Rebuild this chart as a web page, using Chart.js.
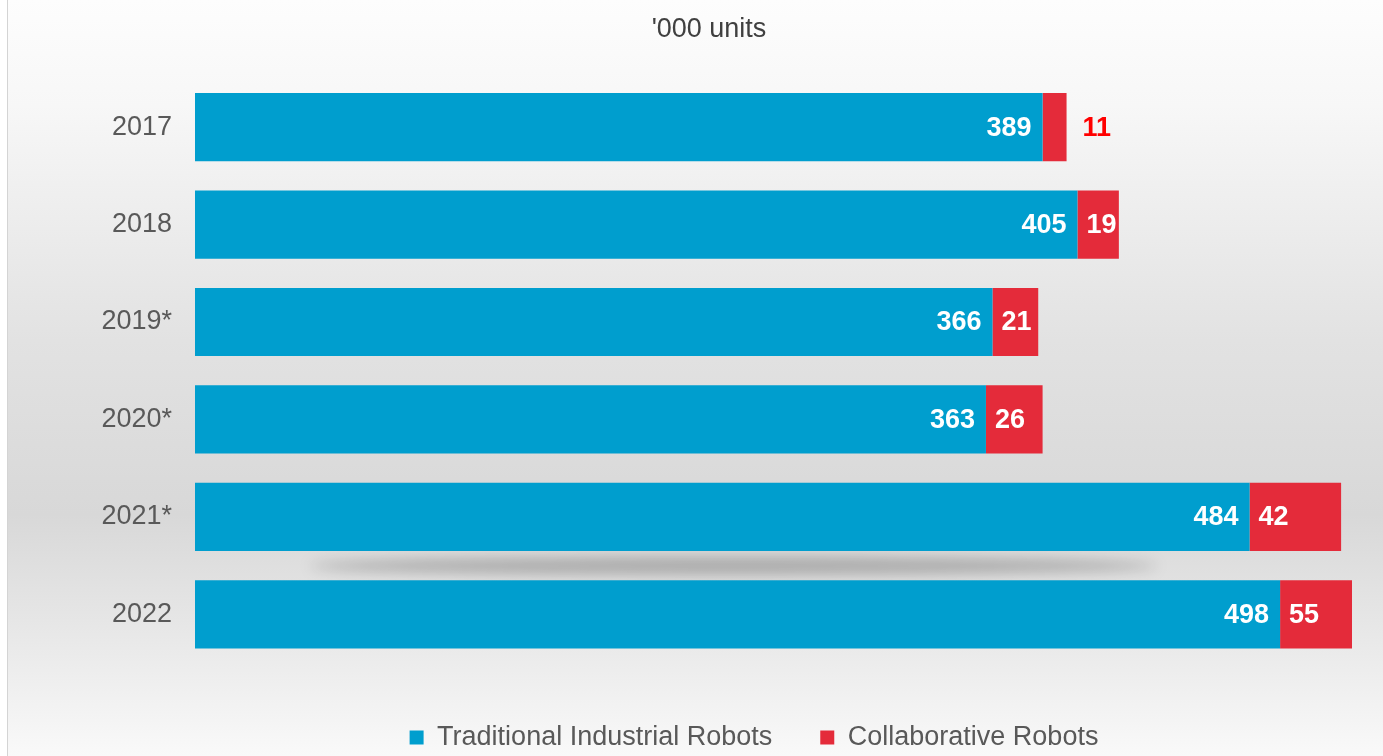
<!DOCTYPE html>
<html>
<head>
<meta charset="utf-8">
<script src="https://cdn.jsdelivr.net/npm/chart.js@4.4.1/dist/chart.umd.min.js"></script>
<style>
  html, body { margin: 0; padding: 0; background: #fff; }
  #wrap { width: 1383px; height: 756px; position: relative; }
</style>
</head>
<body>
<div id="wrap"><canvas id="robots-chart"></canvas></div>
<script>
// Annual installations, '000 units
const years = ['2017', '2018', '2019*', '2020*', '2021*', '2022'];
const traditional = [389, 405, 366, 363, 484, 498];
const collaborative = [11, 19, 21, 26, 42, 55];
const axisMax = 531;

const BLUE = '#009ECE';
const RED = '#E42B3A';
const FONT = "'Liberation Sans', Arial, sans-serif";

// grey studio-style backdrop + left border line
const backdrop = {
  id: 'backdrop',
  afterLayout(chart) {
    // title and legend sit a little right of centre in the original
    const lg = chart.legend;
    if (lg) {
      lg.left += 78; lg.right += 78;
      lg.top += 13; lg.bottom += 13;
    }
    const tb = chart.titleBlock;
    if (tb) { tb.left += 33; tb.right += 33; }
  },
  beforeDraw(chart) {
    const { ctx, width, height } = chart;
    ctx.save();
    const g = ctx.createLinearGradient(0, 0, 0, height);
    g.addColorStop(0, '#fdfdfd');
    g.addColorStop(0.14, '#f7f7f7');
    g.addColorStop(0.45, '#e2e2e2');
    g.addColorStop(0.68, '#d8d8d8');
    g.addColorStop(0.82, '#e6e6e6');
    g.addColorStop(1, '#f9f9f9');
    ctx.fillStyle = '#ffffff';
    ctx.fillRect(0, 0, width, height);
    ctx.fillStyle = g;
    ctx.fillRect(8, 0, width - 8, height);
    ctx.fillStyle = '#d4d4d4';
    ctx.fillRect(7, 0, 1, height);
    ctx.restore();
  },
  beforeDatasetsDraw(chart) {
    // soft floor shadow below the 2021 bar
    const a = chart.getDatasetMeta(0).data[4];
    const b = chart.getDatasetMeta(1).data[4];
    if (!a || !b) return;
    const len = b.x - a.base;
    const { ctx } = chart;
    ctx.save();
    ctx.filter = 'blur(7px)';
    ctx.fillStyle = 'rgba(0,0,0,0.24)';
    const y0 = a.y + a.height / 2 + 8;
    ctx.beginPath();
    ctx.ellipse(a.base + len * 0.47, y0 + 7, len * 0.37, 9, 0, 0, Math.PI * 2);
    ctx.fill();
    ctx.restore();
  }
};

// value labels on the segments
const valueLabels = {
  id: 'valueLabels',
  afterDatasetsDraw(chart) {
    const { ctx } = chart;
    ctx.save();
    ctx.font = 'bold 27px ' + FONT;
    ctx.textBaseline = 'middle';
    chart.getDatasetMeta(0).data.forEach((bar, i) => {
      ctx.fillStyle = '#ffffff';
      ctx.textAlign = 'right';
      ctx.fillText(String(traditional[i]), bar.x - 11, bar.y + 1);
    });
    chart.getDatasetMeta(1).data.forEach((bar, i) => {
      const w = bar.x - bar.base;
      ctx.textAlign = 'left';
      if (w < 36) {
        ctx.fillStyle = '#FF0000';
        ctx.fillText(String(collaborative[i]), bar.x + 16, bar.y + 1);
      } else {
        ctx.fillStyle = '#ffffff';
        ctx.fillText(String(collaborative[i]), bar.base + 9, bar.y + 1);
      }
    });
    ctx.restore();
  }
};

new Chart(document.getElementById('robots-chart'), {
  type: 'bar',
  data: {
    labels: years,
    datasets: [
      { label: 'Traditional Industrial Robots', data: traditional, backgroundColor: BLUE,
        categoryPercentage: 0.7, barPercentage: 1 },
      { label: 'Collaborative Robots', data: collaborative, backgroundColor: RED,
        categoryPercentage: 0.7, barPercentage: 1 },
    ],
  },
  options: {
    indexAxis: 'y',
    responsive: true, maintainAspectRatio: false, animation: false,
    layout: { padding: { left: 0, right: 31, top: 0, bottom: 8 } },
    plugins: {
      title: {
        display: true, text: "'000 units", color: '#404040',
        font: { family: FONT, size: 27, weight: 'normal' },
        padding: { top: 13, bottom: 33 },
      },
      legend: {
        position: 'bottom',
        labels: {
          color: '#595959', boxWidth: 14, boxHeight: 14, padding: 48,
          font: { family: FONT, size: 27 },
        },
      },
      tooltip: { enabled: false },
    },
    scales: {
      x: {
        stacked: true, min: 0, max: axisMax,
        grid: { display: false }, border: { display: false },
        ticks: { display: false },
        afterFit: s => { s.height = 0; },
      },
      y: {
        stacked: true,
        grid: { display: false }, border: { display: false },
        ticks: { color: '#595959', padding: 15, font: { family: FONT, size: 27 } },
        afterFit: s => { s.width = 195; },
      },
    },
  },
  plugins: [backdrop, valueLabels],
});
</script>
</body>
</html>
